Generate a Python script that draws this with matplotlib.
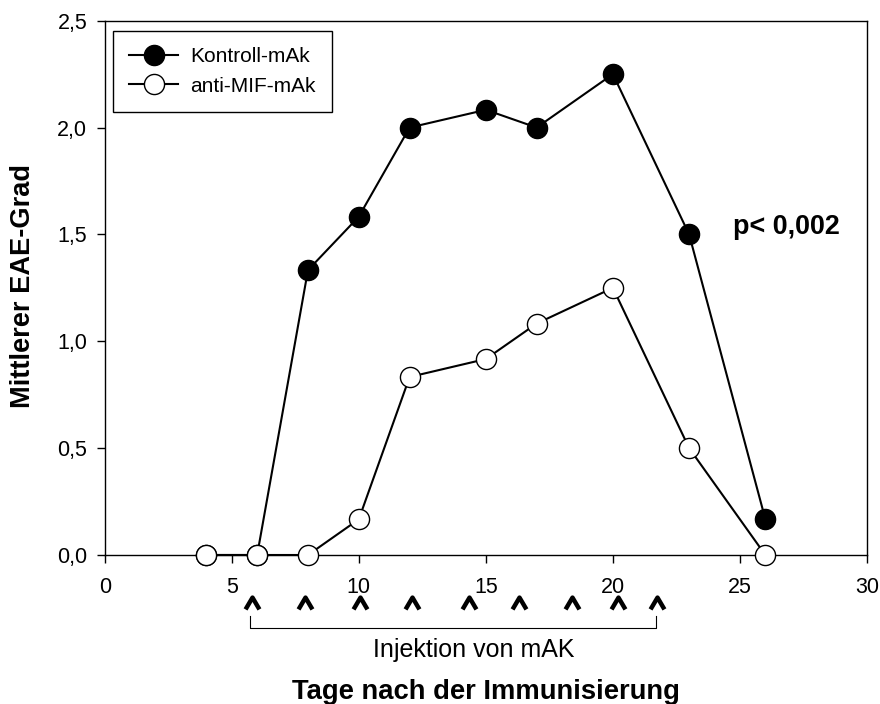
import matplotlib
matplotlib.use("Agg")
import matplotlib.pyplot as plt
from matplotlib.transforms import blended_transform_factory

plt.rcParams['font.family'] = ['Liberation Sans', 'DejaVu Sans']

days = [4, 6, 8, 10, 12, 15, 17, 20, 23, 26]
kontroll = [0.0, 0.0, 1.333, 1.583, 2.0, 2.083, 2.0, 2.25, 1.5, 0.167]
anti_mif = [0.0, 0.0, 0.0, 0.167, 0.833, 0.917, 1.083, 1.25, 0.5, 0.0]
injection_days = [5.8, 7.9, 10.05, 12.1, 14.35, 16.3, 18.4, 20.2, 21.75]
xticks = [0, 5, 10, 15, 20, 25, 30]
yticks = [0.0, 0.5, 1.0, 1.5, 2.0, 2.5]

W, H = 880, 704
fig = plt.figure(figsize=(W / 100, H / 100), dpi=100)
L, R, T, B = 104.7, 867, 20.7, 555
ax = fig.add_axes([L / W, 1 - B / H, (R - L) / W, (B - T) / H])

ax.plot(days, kontroll, color='black', lw=1.5, marker='o', ms=14.5,
        mfc='black', mec='black', mew=1, label='Kontroll-mAk', clip_on=False, zorder=3)
ax.plot(days, anti_mif, color='black', lw=1.5, marker='o', ms=14.5,
        mfc='white', mec='black', mew=1, label='anti-MIF-mAk', clip_on=False, zorder=4)

ax.set_xlim(0, 30)
ax.set_ylim(0, 2.5)
ax.set_xticks(xticks)
ax.set_xticklabels([str(t) for t in xticks])
ax.set_yticks(yticks)
ax.set_yticklabels([f"{t:.1f}".replace('.', ',') for t in yticks])
ax.tick_params(direction='out', length=5.5, width=1, labelsize=15.5, color='black')
ax.tick_params(axis='x', pad=10)
ax.tick_params(axis='y', pad=7)
for s in ax.spines.values():
    s.set_linewidth(1)
    s.set_color('black')

leg = ax.legend(loc='upper left', bbox_to_anchor=(0.0105, 0.9815), fontsize=15,
                frameon=True, fancybox=False, edgecolor='black', framealpha=1,
                handlelength=2.35, handletextpad=0.55, borderpad=0.8, labelspacing=0.5,
                borderaxespad=0)
leg.get_frame().set_linewidth(1)

trans = blended_transform_factory(ax.transData, ax.transAxes)
y_caret = (B - 602.5) / (B - T)
ax.plot(injection_days, [y_caret] * len(injection_days), transform=trans, ls='none',
        marker=[(-1, -0.85), (0, 0.85), (1, -0.85)], ms=10, mew=3.2, mfc='none', mec='black',
        clip_on=False)
y_bar = (B - 628) / (B - T)
y_end = (B - 616) / (B - T)
x0, x1 = injection_days[0] - 0.07, injection_days[-1] - 0.07
ax.plot([x0, x0, x1, x1], [y_end, y_bar, y_bar, y_end], transform=trans,
        color='black', lw=0.8, clip_on=False)

fig.text(474 / W, 1 - 650 / H, 'Injektion von mAK', ha='center', va='center', fontsize=18)
fig.text(486 / W, 1 - 692 / H, 'Tage nach der Immunisierung', ha='center', va='center',
         fontsize=19.7, fontweight='bold')
fig.text(23 / W, 1 - 285.5 / H, 'Mittlerer EAE-Grad', ha='center', va='center',
         rotation=90, fontsize=19.6, fontweight='bold')
fig.text(733 / W, 1 - 226.5 / H, 'p< 0,002', ha='left', va='center', fontsize=19.4,
         fontweight='bold')

fig.savefig('out.png', dpi=100)
